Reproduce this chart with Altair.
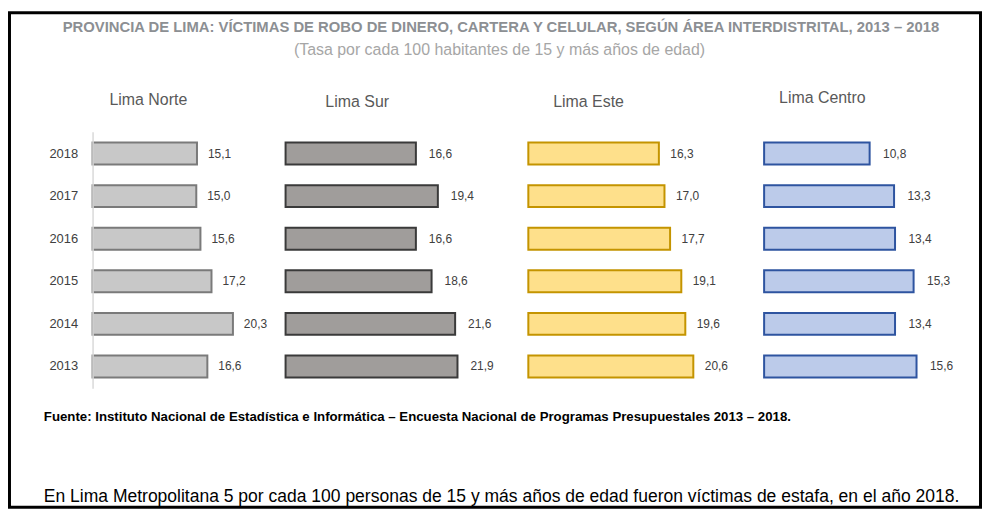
import altair as alt
import pandas as pd

# ---- data ----
years = ["2018", "2017", "2016", "2015", "2014", "2013"]
areas = ["Lima Norte", "Lima Sur", "Lima Este", "Lima Centro"]
lima_norte = [15.1, 15.0, 15.6, 17.2, 20.3, 16.6]
lima_sur = [16.6, 19.4, 16.6, 18.6, 21.6, 21.9]
lima_este = [16.3, 17.0, 17.7, 19.1, 19.6, 20.6]
lima_centro = [10.8, 13.3, 13.4, 15.3, 13.4, 15.6]
series = [lima_norte, lima_sur, lima_este, lima_centro]

title_text = ["PROVINCIA DE LIMA: VÍCTIMAS DE ROBO DE DINERO, CARTERA Y CELULAR,  SEGÚN ÁREA INTERDISTRITAL, 2013 – 2018"]
subtitle_text = ["(Tasa por cada 100 habitantes de 15 y más años de edad)"]
source_text = ["Fuente: Instituto Nacional de Estadística e Informática – Encuesta Nacional de Programas Presupuestales 2013 – 2018."]
note_text = ["En Lima Metropolitana 5 por cada 100 personas de 15 y más años de edad fueron víctimas de estafa, en el año 2018."]

# ---- styles ----
fills = ["#c8c8c8", "#a09d9b", "#fee08b", "#bccbea"]
strokes = ["#7a7a7a", "#3a3a3a", "#c49400", "#2e54a0"]
widths = [194, 243.5, 236.5, 200]
px_per_unit = [6.95, 7.89, 8.05, 9.82]
title_dx = [17, 40, 25, 15]
title_y = [-27, -25, -25, -29]
label_dx = [11, 13, 11.5, 13.5]

SANS = "Liberation Sans"
H = 258
FRAME_BOTTOM = 379  # relative to plot top


def txt(rows, **kw):
    return alt.Chart(pd.DataFrame({"t": rows})).mark_text(**kw)


def panel(i):
    df = pd.DataFrame({"year": years, "value": series[i]})
    show_axis = i == 0
    yaxis = alt.Axis(title=None, domain=True, domainColor="#d9d9d9", domainWidth=1.5,
                     ticks=False, grid=False, labelPadding=15, labelFontSize=13,
                     labelColor="#404040", labelFont=SANS, zindex=1) if show_axis else None
    y = alt.Y("year:N", sort=years,
              scale=alt.Scale(paddingInner=0.486, paddingOuter=0.257), axis=yaxis)
    x = alt.X("value:Q", axis=None,
              scale=alt.Scale(domain=[0, widths[i] / px_per_unit[i]], nice=False, zero=True))
    base = alt.Chart(df)
    bars = base.mark_bar(fill=fills[i], stroke=strokes[i], strokeWidth=2,
                         cornerRadius=0).encode(x=x, y=y)
    labels = base.transform_calculate(
        label="replace(format(datum.value, '.1f'), '.', ',')"
    ).mark_text(align="left", baseline="middle", dx=label_dx[i], fontSize=12,
                font=SANS, color="#404040").encode(x=x, y=y, text="label:N")
    ptitle = txt([areas[i]], align="left", baseline="alphabetic", font=SANS, fontSize=16,
                 color="#595959").encode(x=alt.value(title_dx[i]), y=alt.value(title_y[i]), text="t:N")
    layers = [bars, labels, ptitle]
    if i == 0:
        outer = alt.Chart(pd.DataFrame({"f": [1]})).mark_rect(fill="black").encode(
            x=alt.value(-85), x2=alt.value(894), y=alt.value(-121), y2=alt.value(FRAME_BOTTOM))
        inner = alt.Chart(pd.DataFrame({"f": [1]})).mark_rect(fill="white").encode(
            x=alt.value(-82), x2=alt.value(891), y=alt.value(-118), y2=alt.value(FRAME_BOTTOM - 3))
        t1 = txt(title_text, align="center", baseline="alphabetic", font=SANS, fontWeight="bold",
                 fontSize=14.9, color="#8c8f93").encode(x=alt.value(410.5), y=alt.value(-100), text="t:N")
        t2 = txt(subtitle_text, align="center", baseline="alphabetic", font=SANS,
                 fontSize=16, color="#a6a6a6").encode(x=alt.value(409), y=alt.value(-77), text="t:N")
        t3 = txt(source_text, align="left", baseline="alphabetic", font=SANS, fontWeight="bold",
                 fontSize=13.3, color="#000000").encode(x=alt.value(-49), y=alt.value(291), text="t:N")
        t4 = txt(note_text, align="left", baseline="alphabetic", font=SANS,
                 fontSize=17.6, color="#000000").encode(x=alt.value(-49), y=alt.value(372), text="t:N")
        layers = [outer, inner, bars, labels, ptitle, t1, t2, t3, t4]
    return alt.layer(*layers).properties(width=widths[i], height=H)


chart = alt.hconcat(*[panel(i) for i in range(4)], spacing=0, bounds="flush").properties(
    padding={"left": 0, "top": 2, "right": 0, "bottom": 0}
).configure(background="white").configure_view(stroke="transparent", strokeWidth=0)

chart.save("out.html", embed_options={"renderer": "svg", "actions": False})
